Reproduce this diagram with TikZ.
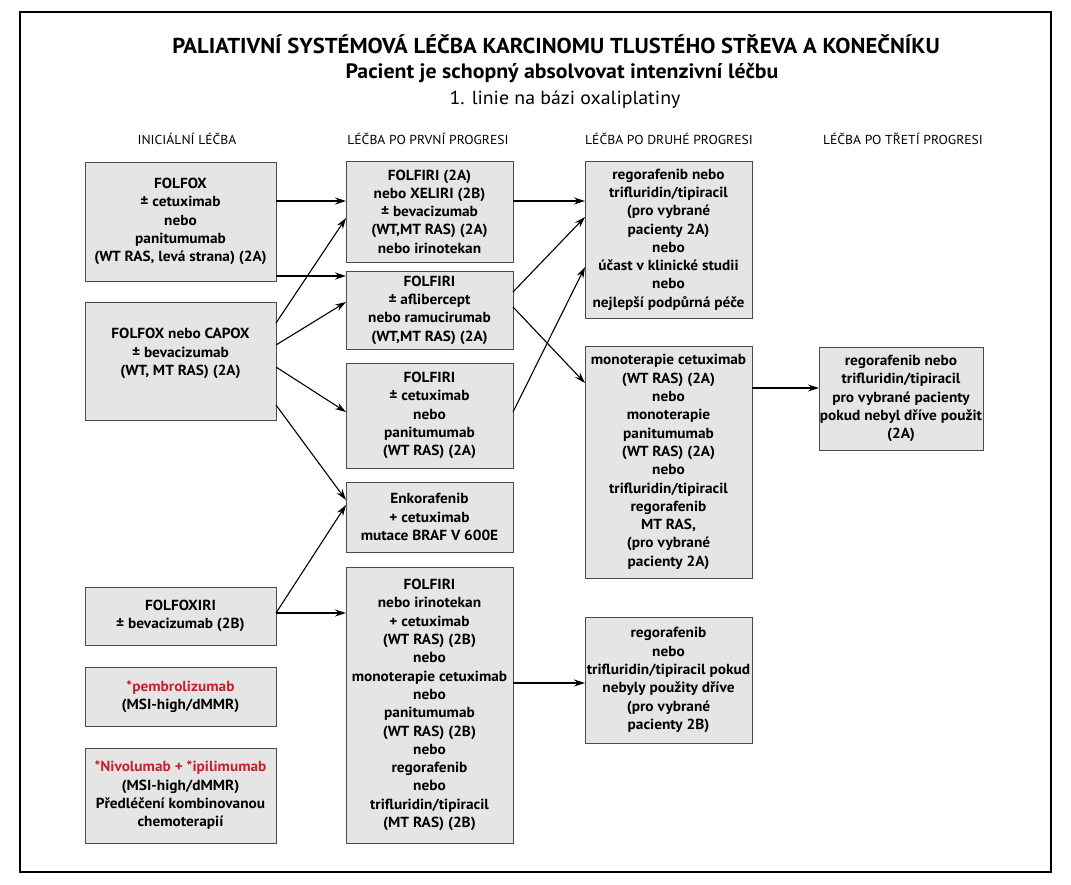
\documentclass[tikz,border=0pt]{standalone}
\usepackage{fontspec}
\setmainfont{PT Sans}[FakeStretch=1.05]
\usepackage{xcolor}
\usepackage{tikz}
\usetikzlibrary{arrows.meta, calc}
\definecolor{drugred}{RGB}{200,32,45}

\begin{document}
\begin{tikzpicture}
  [
    x=1pt, y=-1pt,
    Box/.style={rectangle, draw=black!70, fill=black!10, line width=0.9pt, align=center, inner sep=0pt, outer sep=0pt, font=\bfseries\fontsize{14.6}{18.3}\selectfont},
    ColA/.style={Box, minimum width=191pt},
    ColB/.style={Box, minimum width=167pt},
    ColC/.style={Box, minimum width=167pt},
    ColD/.style={Box, minimum width=164pt},
    Head/.style={inner sep=0pt, font=\fontsize{13}{15}\selectfont},
    Title/.style={inner sep=0pt, anchor=base, font=\bfseries\fontsize{21.6}{24}\selectfont},
    Line/.style={-{Stealth[length=11pt, width=7pt]}, draw, line width=1.1pt}
  ]
  \useasboundingbox (0,0) rectangle (1071,884);
  \draw[line width=2pt] (20,12) rectangle (1051,872);

  % Titles
  \node[Title] (title) at(556, 53) {PALIATIVNÍ SYSTÉMOVÁ LÉČBA KARCINOMU TLUSTÉHO STŘEVA A KONEČNÍKU};
  \node[Title, font=\bfseries\fontsize{20.8}{24}\selectfont] (subtitle) at(562, 78) {Pacient je schopný absolvovat intenzivní léčbu};
  \node[Title, font=\fontsize{18.9}{22}\selectfont] (line) at(565, 104) {1. linie na bázi oxaliplatiny};

  \node[Head] (hA) at(187, 139) {INICIÁLNÍ LÉČBA};
  \node[Head] (hB) at(428, 139) {LÉČBA PO PRVNÍ PROGRESI};
  \node[Head] (hC) at(669, 139) {LÉČBA PO DRUHÉ PROGRESI};
  \node[Head] (hD) at(903, 139) {LÉČBA PO TŘETÍ PROGRESI};

  % Nodes
  \node[ColA, minimum height=119pt] (folfox) at(180.5, 221.5) {FOLFOX\\ ± cetuximab\\ nebo\\ panitumumab\\ (WT RAS, levá strana) (2A)};
  \node[ColA, minimum height=118pt] (capox) at(180.5, 361) {FOLFOX nebo CAPOX\\ ± bevacizumab\\ (WT, MT RAS) (2A)\\ \mbox{}};
  \node[ColA, minimum height=58pt] (folfoxiri) at(180.5, 616) {FOLFOXIRI\\ ± bevacizumab (2B)};
  \node[ColA, minimum height=59pt] (pembro) at(180.5, 696.5) {\textcolor{drugred}{*pembrolizumab}\\ (MSI-high/dMMR)};
  \node[ColA, minimum height=95pt] (nivo) at(180.5, 795.5) {\textcolor{drugred}{*Nivolumab + *ipilimumab}\\ (MSI-high/dMMR)\\ Předléčení kombinovanou\\ chemoterapií};

  \node[ColB, minimum height=101pt] (folfiriA) at(429.5, 211.5) {FOLFIRI (2A)\\ nebo XELIRI (2B)\\ ± bevacizumab\\ (WT,MT RAS) (2A)\\ nebo irinotekan};
  \node[ColB, minimum height=78pt] (folfiriB) at(429.5, 310) {FOLFIRI\\ ± aflibercept\\ nebo ramucirumab\\ (WT,MT RAS) (2A)};
  \node[ColB, minimum height=105pt] (folfiriC) at(429.5, 415.5) {FOLFIRI\\ ± cetuximab\\ nebo\\ panitumumab\\ (WT RAS) (2A)};
  \node[ColB, minimum height=70pt] (enko) at(429.5, 517) {Enkorafenib\\ + cetuximab\\ mutace BRAF V 600E};
  \node[ColB, minimum height=276pt] (folfiriD) at(429.5, 705) {FOLFIRI\\ nebo irinotekan\\ + cetuximab\\ (WT RAS) (2B)\\ nebo\\ monoterapie cetuximab\\ nebo\\ panitumumab\\ (WT RAS) (2B)\\ nebo\\ regorafenib\\ nebo\\ trifluridin/tipiracil\\ (MT RAS) (2B)};

  \node[ColC, minimum height=157pt] (regoA) at(668.5, 239.5) {regorafenib nebo\\ trifluridin/tipiracil\\ (pro vybrané\\ pacienty 2A)\\ nebo\\ účast v klinické studii\\ nebo\\ nejlepší podpůrná péče};
  \node[ColC, minimum height=232pt] (mono) at(668.5, 462) {monoterapie cetuximab\\ (WT RAS) (2A)\\ nebo\\ monoterapie\\ panitumumab\\ (WT RAS) (2A)\\ nebo\\ trifluridin/tipiracil\\ regorafenib\\ MT RAS,\\ (pro vybrané\\ pacienty 2A)};
  \node[ColC, minimum height=126pt] (regoB) at(668.5, 680) {regorafenib\\ nebo\\ trifluridin/tipiracil pokud\\ nebyly použity dříve\\ (pro vybrané\\ pacienty 2B)};

  \node[ColD, minimum height=103pt] (regoC) at(901, 398.5) {regorafenib nebo\\ trifluridin/tipiracil\\ pro vybrané pacienty\\ pokud nebyl dříve použit\\ (2A)};

  % Lines
  \path [Line] ([yshift=20.5pt]folfox.east) -- ([yshift=10.5pt]folfiriA.west);
  \path [Line] ([yshift=-54.5pt]folfox.east) -- ([yshift=34pt]folfiriB.west);
  \path [Line] ([yshift=38pt]capox.east) -- ([yshift=-6.5pt]folfiriA.west);
  \path [Line] ([yshift=16pt]capox.east) -- ([yshift=8pt]folfiriB.west);
  \path [Line] ([yshift=-6pt]capox.east) -- ([yshift=3.5pt]folfiriC.west);
  \path [Line] ([yshift=-44pt]capox.east) -- ([yshift=17pt]enko.west);
  \path [Line] ([yshift=3pt]folfoxiri.east) -- ([yshift=12pt]enko.west);
  \path [Line] ([yshift=3pt]folfoxiri.east) -- ([yshift=92pt]folfiriD.west);

  \path [Line] ([yshift=10.5pt]folfiriA.east) -- ([yshift=38.5pt]regoA.west);
  \path [Line] ([yshift=18pt]folfiriB.east) -- ([yshift=22.5pt]regoA.west);
  \path [Line] ([yshift=3.5pt]folfiriC.east) -- ([yshift=-27.5pt]regoA.west);
  \path [Line] ([yshift=3pt]folfiriB.east) -- ([yshift=79pt]mono.west);
  \path [Line] ([yshift=22pt]folfiriD.east) -- ([yshift=-3pt]regoB.west);

  \path [Line] ([yshift=74pt]mono.east) -- ([yshift=10.5pt]regoC.west);

\end{tikzpicture}
\end{document}
